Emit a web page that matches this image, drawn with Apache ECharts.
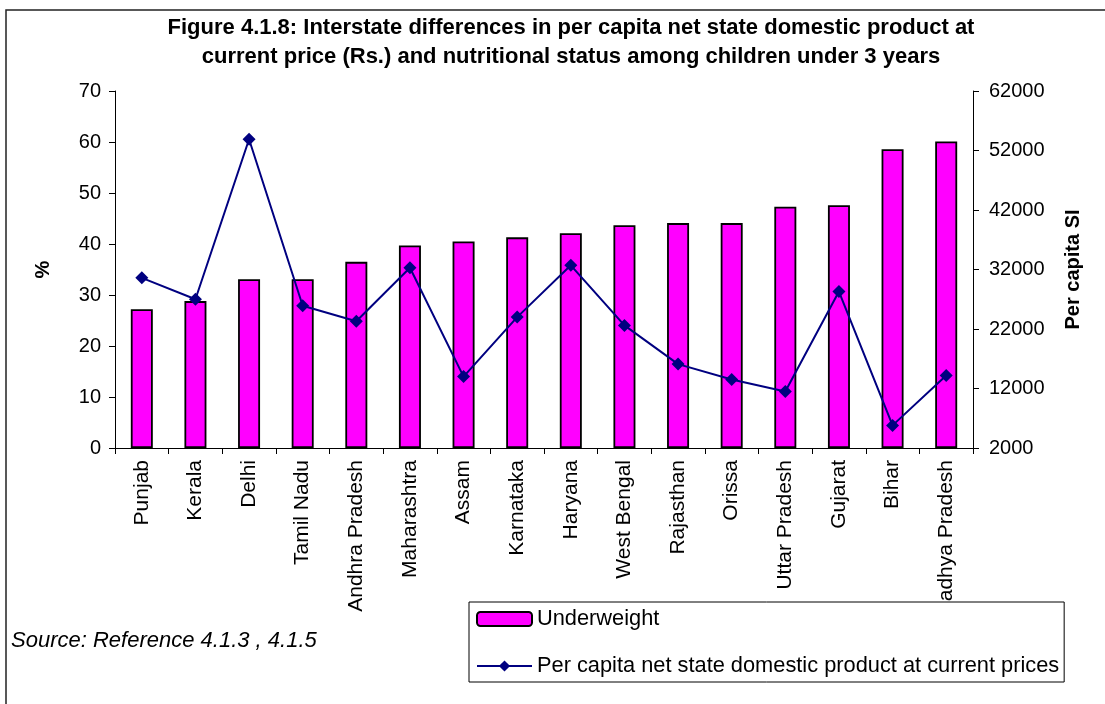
<!DOCTYPE html>
<html>
<head>
<meta charset="utf-8">
<script src="https://cdn.jsdelivr.net/npm/echarts@6/dist/echarts.min.js"></script>
<style>
  html, body { margin: 0; padding: 0; background: #fff; }
  #chart { width: 1105px; height: 704px; }
</style>
</head>
<body>
<div id="chart"></div>
<script>
const states = ['Punjab', 'Kerala', 'Delhi', 'Tamil Nadu', 'Andhra Pradesh', 'Maharashtra', 'Assam',
  'Karnataka', 'Haryana', 'West Bengal', 'Rajasthan', 'Orissa', 'Uttar Pradesh', 'Gujarat', 'Bihar',
  'Madhya Pradesh'];
// % underweight, children under 3
const underweight = [27.2, 28.8, 33.1, 33.1, 36.5, 39.7, 40.5, 41.3, 42.1, 43.7, 44.1, 44.1, 47.3, 47.6, 58.6, 60.1];
// per capita SDP at current prices (Rs.)
const sdp = [30600, 27000, 53900, 25900, 23300, 32300, 14000, 24000, 32700, 22600, 16100, 13500, 11500, 28300, 5800, 14200];
const rightTicks = [2000, 12000, 22000, 32000, 42000, 52000, 62000];

const FONT = '"Liberation Sans", Arial, sans-serif';

const option = {
  backgroundColor: '#fff',
  animation: false,
  textStyle: { fontFamily: FONT, color: '#000' },
  title: {
    text: 'Figure 4.1.8: Interstate differences in per capita net state domestic product at\ncurrent price (Rs.) and nutritional status among children under 3 years',
    left: 566,
    top: 8,
    textAlign: 'center',
    textStyle: {
      fontFamily: FONT,
      fontSize: 22,
      fontWeight: 'bold',
      lineHeight: 29,
      color: '#000',
    },
  },
  legend: {
    orient: 'vertical',
    left: 469,
    top: 602,
    padding: [6, 5, 5, 7],
    itemGap: 25,
    itemWidth: 55,
    itemHeight: 14,
    backgroundColor: '#fff',
    borderColor: '#000',
    borderWidth: 1,
    borderRadius: 0,
    textStyle: { fontFamily: FONT, fontSize: 21.8, color: '#000' },
    data: ['Underweight', 'Per capita net state domestic product at current prices'],
  },
  grid: {
    left: 115,
    right: 132,
    top: 91,
    bottom: 256,
  },
  xAxis: {
    type: 'category',
    data: states,
    axisLine: { lineStyle: { color: '#000', width: 1 } },
    axisTick: { show: true, length: 6, lineStyle: { color: '#000' } },
    axisLabel: {
      rotate: 90,
      interval: 0,
      margin: 12,
      fontFamily: FONT,
      fontSize: 21,
      color: '#000',
    },
  },
  yAxis: [{
    type: 'value',
    min: 0,
    max: 70,
    interval: 10,
    name: '%',
    nameLocation: 'middle',
    nameGap: 62,
    nameTextStyle: { fontFamily: FONT, fontSize: 20, fontWeight: 'bold', color: '#000' },
    splitLine: { show: false },
    axisLine: { show: true, lineStyle: { color: '#000' } },
    axisTick: { show: true, length: 6, lineStyle: { color: '#000' } },
    axisLabel: { margin: 14, fontFamily: FONT, fontSize: 20, color: '#000' },
  }, {
    type: 'value',
    position: 'right',
    min: 2000,
    max: 62000,
    name: 'Per capita SI',
    nameLocation: 'middle',
    nameGap: 90,
    nameTextStyle: { fontFamily: FONT, fontSize: 20, fontWeight: 'bold', color: '#000' },
    splitLine: { show: false },
    axisLine: { show: true, lineStyle: { color: '#000' } },
    axisTick: { show: true, length: 6, customValues: rightTicks, lineStyle: { color: '#000' } },
    axisLabel: {
      margin: 16,
      customValues: rightTicks,
      formatter: (v) => String(v),
      fontFamily: FONT,
      fontSize: 20,
      color: '#000',
    },
  }],
  series: [{
    name: 'Underweight',
    type: 'bar',
    data: underweight,
    barWidth: 22,
    itemStyle: { color: '#ff00ff', borderColor: '#000', borderWidth: 1.8 },
  }, {
    name: 'Per capita net state domestic product at current prices',
    type: 'line',
    yAxisIndex: 1,
    data: sdp,
    symbol: 'diamond',
    symbolSize: 13,
    lineStyle: { color: '#000080', width: 2 },
    itemStyle: { color: '#000080' },
    z: 3,
  }],
  graphic: [{
    type: 'rect',
    shape: { x: 6, y: 10, width: 1200, height: 800 },
    style: { fill: 'none', stroke: '#222', lineWidth: 1.5 },
    silent: true,
  }, {
    type: 'text',
    left: 11,
    top: 630,
    style: {
      text: 'Source: Reference 4.1.3 , 4.1.5',
      font: 'italic 22px "Liberation Sans", Arial, sans-serif',
      fill: '#000',
    },
  }],
};

const initChart = (id) => {
  const myChart = echarts.init(document.getElementById(id));
  window.addEventListener('resize', () => {
    myChart.resize();
  });
  return myChart;
};

const chart = initChart('chart');
chart.setOption(option);
</script>
</body>
</html>
